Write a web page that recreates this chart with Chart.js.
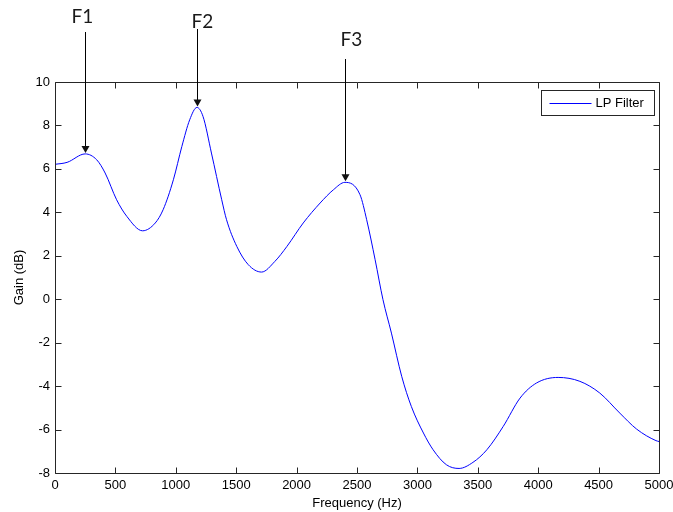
<!DOCTYPE html>
<html>
<head>
<meta charset="utf-8">
<script src="https://cdn.jsdelivr.net/npm/chart.js@4/dist/chart.umd.min.js"></script>
<style>
  html, body { margin: 0; padding: 0; background: #ffffff; }
  #wrap { width: 673px; height: 512px; position: relative; }
</style>
</head>
<body>
<div id="wrap"><canvas id="c" width="673" height="512"></canvas></div>
<script>
// ---- data ----
const freqHz = [0, 100, 250, 345, 415, 510, 595, 725, 830, 895,
  980, 1050, 1115, 1175, 1225, 1295, 1380, 1420, 1505, 1600,
  1710, 1820, 1920, 2055, 2195, 2305, 2400, 2525, 2580, 2650,
  2715, 2785, 2870, 2950, 3050, 3130, 3240, 3345, 3460, 3575,
  3710, 3850, 3985, 4165, 4345, 4510, 4675, 4815, 4975, 5000];
const gainDb = [6.21, 6.30, 6.69, 6.42, 5.81, 4.58, 3.81, 3.15, 3.51, 4.12,
  5.50, 7.03, 8.26, 8.83, 8.42, 6.73, 4.58, 3.66, 2.43, 1.59,
  1.25, 1.74, 2.43, 3.51, 4.43, 5.04, 5.38, 4.81, 3.66, 1.82,
  -0.02, -1.56, -3.55, -4.94, -6.16, -6.93, -7.62, -7.79, -7.51, -6.93,
  -5.86, -4.55, -3.86, -3.60, -3.78, -4.32, -5.24, -5.98, -6.51, -6.55];
const seriesLabel = 'LP Filter';
const xTitle = 'Frequency (Hz)';
const yTitle = 'Gain (dB)';
const formantLabels = ['F1', 'F2', 'F3'];
const formantFreqs = [248, 1175, 2398];
const formantGains = [6.69, 8.83, 5.38];

// ---- layout / style (pixels) ----
const annotationLayout = [
  { labelDx: -3, labelY: 17, lineTop: 32 },
  { labelDx: 5, labelY: 22, lineTop: 29 },
  { labelDx: 6, labelY: 40, lineTop: 59 }
];
const axisColor = '#262626';
const lineColor = '#0000ff';
const tickFont = { family: 'Liberation Sans, Arial, sans-serif', size: 13 };

const points = freqHz.map((f, i) => ({ x: f, y: gainDb[i] }));

const boxTicksPlugin = {
  id: 'boxTicks',
  afterDraw(chart) {
    const { ctx, chartArea: a, scales } = chart;
    ctx.save();
    ctx.strokeStyle = axisColor;
    ctx.lineWidth = 1;
    const L = Math.round(a.left) + 0.5, R = Math.round(a.right) + 0.5;
    const T = Math.round(a.top) + 0.5, B = Math.round(a.bottom) + 0.5;
    ctx.beginPath();
    ctx.rect(L, T, R - L, B - T);
    ctx.stroke();
    const tl = 6;
    ctx.beginPath();
    scales.x.ticks.forEach(t => {
      const px = Math.round(scales.x.getPixelForValue(t.value)) + 0.5;
      ctx.moveTo(px, B); ctx.lineTo(px, B - tl);
      ctx.moveTo(px, T); ctx.lineTo(px, T + tl);
    });
    scales.y.ticks.forEach(t => {
      const py = Math.round(scales.y.getPixelForValue(t.value)) + 0.5;
      ctx.moveTo(L, py); ctx.lineTo(L + tl, py);
      ctx.moveTo(R, py); ctx.lineTo(R - tl, py);
    });
    ctx.stroke();

    // legend box inside the plot (top-right)
    const lw = 113, lh = 25;
    const lx = Math.round(a.right) - 5 - lw + 0.5, ly = Math.round(a.top) + 8 + 0.5;
    ctx.fillStyle = '#ffffff';
    ctx.fillRect(lx, ly, lw, lh);
    ctx.strokeStyle = axisColor;
    ctx.strokeRect(lx, ly, lw, lh);
    ctx.strokeStyle = lineColor;
    ctx.beginPath();
    ctx.moveTo(lx + 8, ly + 13); ctx.lineTo(lx + 50, ly + 13);
    ctx.stroke();
    ctx.fillStyle = '#000000';
    ctx.font = '13px ' + tickFont.family;
    ctx.textBaseline = 'middle';
    ctx.textAlign = 'left';
    ctx.fillText(seriesLabel, lx + 54, ly + 13);

    // formant annotations
    formantLabels.forEach((lab, i) => {
      const lay = annotationLayout[i];
      const px = Math.round(scales.x.getPixelForValue(formantFreqs[i])) + 0.5;
      const tipY = scales.y.getPixelForValue(formantGains[i]) - 1;
      ctx.strokeStyle = '#000000';
      ctx.lineWidth = 1;
      ctx.beginPath();
      ctx.moveTo(px, lay.lineTop);
      ctx.lineTo(px, tipY - 6);
      ctx.stroke();
      ctx.fillStyle = '#111111';
      ctx.beginPath();
      ctx.moveTo(px - 4, tipY - 7);
      ctx.lineTo(px + 4, tipY - 7);
      ctx.lineTo(px, tipY);
      ctx.closePath();
      ctx.fill();
      ctx.fillStyle = '#1a1a1a';
      ctx.font = '19px Lato, "Open Sans", sans-serif';
      ctx.textAlign = 'center';
      ctx.textBaseline = 'middle';
      ctx.fillText(lab, px + lay.labelDx, lay.labelY);
    });
    ctx.restore();
  }
};

new Chart(document.getElementById('c'), {
  type: 'line',
  data: {
    datasets: [{
      label: seriesLabel,
      data: points,
      borderColor: lineColor,
      borderWidth: 1,
      pointRadius: 0,
      fill: false,
      cubicInterpolationMode: 'monotone'
    }]
  },
  options: {
    responsive: false,
    animation: false,
    devicePixelRatio: 1,
    layout: { padding: { left: 0, right: 14, top: 82, bottom: 0 } },
    plugins: { legend: { display: false }, tooltip: { enabled: false } },
    scales: {
      x: {
        type: 'linear', min: 0, max: 5000,
        grid: { display: false, drawTicks: false },
        border: { display: false },
        ticks: { stepSize: 500, padding: 5, color: '#000000', font: tickFont, maxRotation: 0,
          callback: v => String(v) },
        title: { display: true, text: xTitle, color: '#000000', font: tickFont, padding: { top: 0, bottom: 1 } },
        afterFit(s) { s.height = 39; s.paddingRight = 0; s.paddingLeft = 0; }
      },
      y: {
        type: 'linear', min: -8, max: 10,
        grid: { display: false, drawTicks: false },
        border: { display: false },
        ticks: { stepSize: 2, padding: 5, color: '#000000', font: tickFont, callback: v => String(v) },
        title: { display: true, text: yTitle, color: '#000000', font: tickFont, padding: { top: 12, bottom: 0 } },
        afterFit(s) { s.width = 55; s.paddingTop = 0; s.paddingBottom = 0; }
      }
    }
  },
  plugins: [boxTicksPlugin]
});
</script>
</body>
</html>
